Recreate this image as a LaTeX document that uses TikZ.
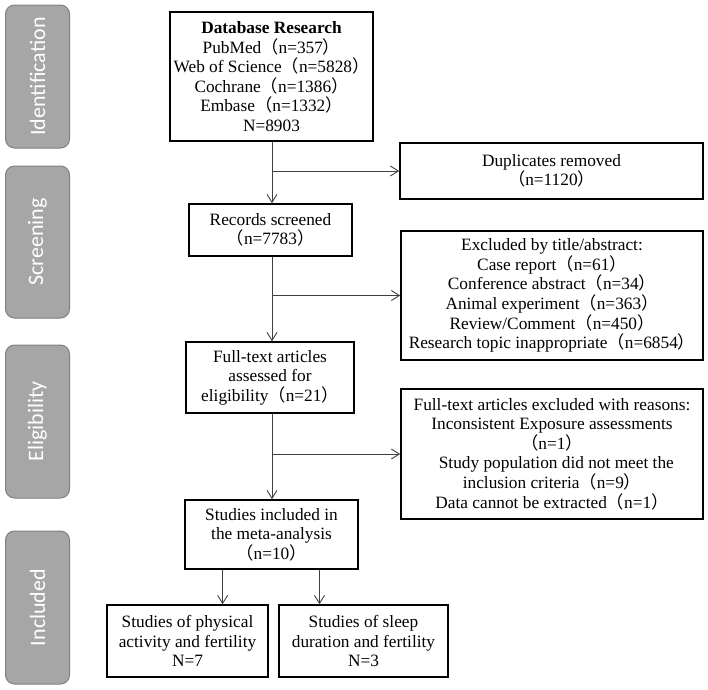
\documentclass[tikz,border=0pt]{standalone}
\usepackage{fontspec}
\setmainfont{Liberation Serif}
\newfontfamily\cjkfont{Noto Sans CJK SC}
\newfontfamily\sidefont{Carlito}
\newcommand\LP{{\cjkfont （}}
\newcommand\RP{{\cjkfont ）}}
\usetikzlibrary{arrows.meta,calc}
\begin{document}
\begin{tikzpicture}[x=1pt,y=-1pt,
  side/.style={draw=black!50, fill=black!35, line width=1pt, rounded corners=9pt, rotate=90,
    text=white, font=\sidefont\fontsize{22}{26}\selectfont, minimum height=64pt, inner sep=0pt},
  fbox/.style={draw=black, line width=1.6pt, align=center, inner sep=0pt,
    font=\fontsize{17.3}{19.6}\selectfont},
  arr/.style={draw=black!75, line width=0.9pt, -{Straight Barb[length=8pt,width=10pt,line width=0.9pt]}}]
\useasboundingbox (0,0) rectangle (708,689);
% side labels
\node[side, minimum width=143pt] (sid) at (37.5,76.5) {Identification};
\node[side, minimum width=152pt] (ssc) at (37.5,242) {Screening};
\node[side, minimum width=153pt] (sel) at (37.5,421.5) {Eligibility};
\node[side, minimum width=153pt] (sin) at (37.5,607.5) {Included};
% boxes
\node[fbox, minimum width=203pt, minimum height=129pt] (db) at (271.5,76.5)
  {\textbf{Database Research}\\PubMed\LP n=357\RP\\Web of Science\LP n=5828\RP\\Cochrane\LP n=1386\RP\\Embase\LP n=1332\RP\\N=8903};
\node[fbox, minimum width=303pt, minimum height=56pt] (dup) at (551.5,171)
  {Duplicates removed\\\LP n=1120\RP};
\node[fbox, minimum width=163pt, minimum height=52pt] (rec) at (270.5,230)
  {Records screened\\\LP n=7783\RP};
\node[fbox, minimum width=302pt, minimum height=129pt] (exa) at (552,295.5)
  {Excluded by title/abstract:\\Case report\LP n=61\RP\\Conference abstract\LP n=34\RP\\Animal experiment\LP n=363\RP\\Review/Comment\LP n=450\RP\\Research topic inappropriate\LP n=6854\RP};
\node[fbox, minimum width=168pt, minimum height=71pt] (ft) at (270,377.5)
  {Full-text articles\\assessed for\\eligibility\LP n=21\RP};
\node[fbox, minimum width=302pt, minimum height=130pt] (exb) at (552,454)
  {Full-text articles excluded with reasons:\\Inconsistent Exposure assessments\\\LP n=1\RP\\\ \ Study population did not meet the\\inclusion criteria\LP n=9\RP\\Data cannot be extracted\LP n=1\RP};
\node[fbox, minimum width=173pt, minimum height=69pt] (inc) at (271.5,534.5)
  {Studies included in\\the meta-analysis\\\LP n=10\RP};
\node[fbox, minimum width=161pt, minimum height=72pt] (phy) at (187.5,641)
  {Studies of physical\\activity and fertility\\N=7};
\node[fbox, minimum width=169pt, minimum height=72pt] (slp) at (363.5,641)
  {Studies of sleep\\duration and fertility\\N=3};
% connectors
\coordinate (m1) at ($(db.south)+(0.5,0)$);
\draw[arr] (m1) -- (m1 |- rec.north);
\draw[arr] (m1 |- dup.west) -- (dup.west);
\coordinate (m2) at ($(rec.south)+(1.5,0)$);
\draw[arr] (m2) -- (m2 |- ft.north);
\draw[arr] (m2 |- exa.west) -- (exa.west);
\coordinate (m3) at ($(ft.south)+(2,0)$);
\draw[arr] (m3) -- (m3 |- inc.north);
\draw[arr] (m3 |- exb.west) -- (exb.west);
\coordinate (c1) at ($(inc.south west)!0.22!(inc.south east)$);
\coordinate (c2) at ($(inc.south west)!0.775!(inc.south east)$);
\draw[arr] (c1) -- (c1 |- phy.north);
\draw[arr] (c2) -- (c2 |- slp.north);
\end{tikzpicture}
\end{document}
